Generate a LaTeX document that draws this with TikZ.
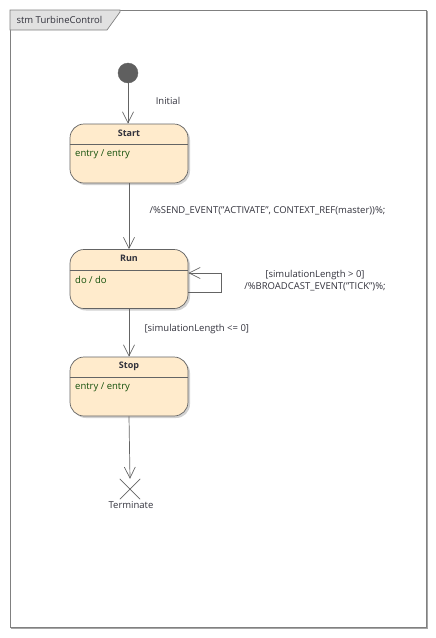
\documentclass[tikz,border=0pt]{standalone}
\usepackage{fontspec}
\setmainfont{Open Sans}
\usetikzlibrary{positioning,arrows.meta,shadows}
\definecolor{statefill}{RGB}{255,235,204}
\definecolor{stateline}{RGB}{100,100,100}
\definecolor{actiongreen}{RGB}{20,80,10}
\definecolor{labelgray}{RGB}{50,50,60}
\definecolor{framegray}{RGB}{128,128,128}
\definecolor{tabgray}{RGB}{225,225,225}
\tikzset{
  state/.style={draw=stateline, fill=statefill, rounded corners=14pt, line width=0.7pt,
    minimum width=118pt, minimum height=59pt, inner sep=0pt,
    drop shadow={shadow xshift=2pt, shadow yshift=-2pt, fill=black, opacity=0.18}},
  statetitle/.style={font=\fontsize{9}{11}\selectfont\bfseries, text=labelgray},
  action/.style={font=\fontsize{9.5}{11}\selectfont, text=actiongreen, anchor=west},
  trans/.style={draw=stateline, line width=0.7pt, -{Straight Barb[length=11pt,width=11pt,line width=0.7pt]}},
  translabel/.style={font=\fontsize{9.5}{11.5}\selectfont, text=labelgray}
}
\begin{document}
\begin{tikzpicture}[x=1pt,y=-1pt]
\useasboundingbox (0,0) rectangle (436,638);
% frame
\draw[framegray, line width=1pt] (10,10) rectangle (426,627);
\draw[black!35, line width=1pt] (427,11) -- (427,628) -- (11,628);
\draw[framegray, fill=tabgray, line width=0.7pt] (10,10) -- (120,10) -- (120,12) -- (107,30) -- (10,30) -- cycle;
\node[translabel, anchor=west] (frame_title) at (13,20) {stm TurbineControl};
% states
\draw[fill=stateline!95!black, draw=stateline] (128,73) circle (10);
\node (initial) at (128,73) [minimum size=20pt, inner sep=0pt] {};
\node[state] (state_start) at (129,153.5) {};
\node[state] (state_run) at (129,279) {};
\node[state] (state_stop) at (129,386.5) {};
\foreach \s/\t/\a in {state_start/Start/{entry / entry}, state_run/Run/{do / do}, state_stop/Stop/{entry / entry}}{
  \draw[stateline, line width=0.7pt] ([yshift=-21pt]\s.north west) -- ([yshift=-21pt]\s.north east);
  \node[statetitle] (\s_title) at ([yshift=-9.5pt]\s.north) {\t};
  \node[action] (\s_action) at ([xshift=2pt,yshift=-31pt]\s.north west) {\a};
}
% terminate
\node (terminate) at (130,489) [minimum size=20pt, inner sep=0pt] {};
\draw[stateline, line width=0.7pt] (terminate.north west) -- (terminate.south east);
\draw[stateline, line width=0.7pt] (terminate.north east) -- (terminate.south west);
\node[translabel] (terminate_label) at (131,505) {Terminate};
% transitions
\draw[trans] (initial) -- (state_start.north -| initial);
\node[translabel] (lbl_initial) at (168,101) {Initial};
\draw[trans] (state_start) -- (state_run);
\node[translabel, anchor=west] (lbl_activate) at (146,211) {/\%SEND\_EVENT("ACTIVATE", CONTEXT\_REF(master))\%;};
\draw[trans] ([yshift=-13pt]state_run.east) -- ++(33,0) -- ++(0,-19) -- ([yshift=6pt]state_run.east);
\node[translabel, align=center] (lbl_tick) at (315,280.5) {[simulationLength > 0]\\/\%BROADCAST\_EVENT("TICK")\%;};
\draw[trans] (state_run) -- (state_stop);
\node[translabel, anchor=west] (lbl_stop) at (141,329) {[simulationLength <= 0]};
\draw[trans] (state_stop.south) -- ([yshift=0pt]terminate.north);
\end{tikzpicture}
\end{document}
